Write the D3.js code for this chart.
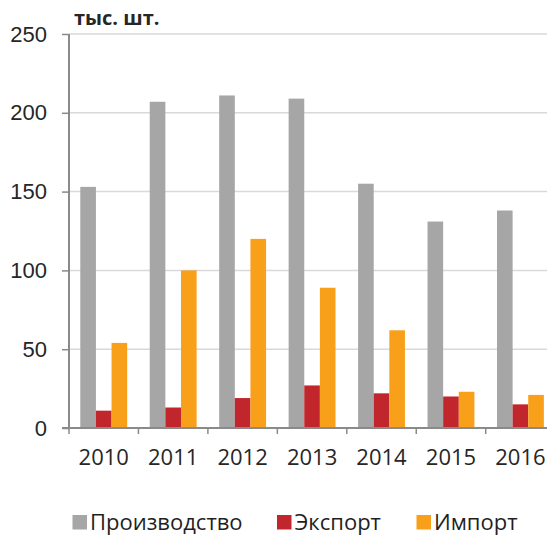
<!DOCTYPE html>
<html>
<head>
<meta charset="utf-8">
<script src="https://cdn.jsdelivr.net/npm/d3@7"></script>
<style>
  html, body { margin: 0; padding: 0; background: #fff; }
  svg { display: block; font-family: "Open Sans", "Noto Sans", sans-serif; }
</style>
</head>
<body>
<svg id="chart" width="547" height="536"></svg>
<script>
const years = ["2010", "2011", "2012", "2013", "2014", "2015", "2016"];
const seriesNames = ["Производство", "Экспорт", "Импорт"];
const production = [153, 207, 211, 209, 155, 131, 138];
const exportVals = [11, 13, 19, 27, 22, 20, 15];
const importVals = [54, 100, 120, 89, 62, 23, 21];
const yTicks = [0, 50, 100, 150, 200, 250];
const unitLabel = "тыс. шт.";
const colors = ["#a6a6a6", "#c0262c", "#f9a01b"];

const series = [production, exportVals, importVals];

const svg = d3.select("#chart");
const W = 547;
const axisX = 69;
const step = 69.45;

const x = d3.scaleBand()
  .domain(years)
  .range([axisX, axisX + step * years.length])
  .paddingInner(0.325)
  .paddingOuter(0.1625);

const xs = d3.scaleBand()
  .domain(seriesNames)
  .range([0, x.bandwidth()]);

const y = d3.scaleLinear().domain([0, 250]).range([428, 34]);

// gridlines
svg.append("g").selectAll("line")
  .data(yTicks.filter(d => d > 0))
  .join("line")
  .attr("x1", axisX).attr("x2", W)
  .attr("y1", d => y(d)).attr("y2", d => y(d))
  .attr("stroke", "#d9d9d9").attr("stroke-width", 1.5);

// bars
const groups = svg.append("g").selectAll("g")
  .data(years)
  .join("g")
  .attr("transform", d => `translate(${x(d)},0)`);

groups.selectAll("rect")
  .data((yr, i) => seriesNames.map((s, j) => ({ s, j, v: series[j][i] })))
  .join("rect")
  .attr("x", d => xs(d.s))
  .attr("width", xs.bandwidth())
  .attr("y", d => y(d.v))
  .attr("height", d => y(0) - y(d.v))
  .attr("fill", d => colors[d.j]);

// y axis
const yAxis = d3.axisLeft(y).tickValues(yTicks).tickSize(7).tickPadding(15);
const gy = svg.append("g").attr("transform", `translate(${axisX},0)`).call(yAxis);
gy.select(".domain").attr("stroke", "#8a8a8a").attr("stroke-width", 2)
  .attr("d", `M0,${y(250)}V${y(0)}`);
gy.selectAll(".tick line").attr("stroke", "#8a8a8a").attr("stroke-width", 1.5);
gy.selectAll(".tick text").attr("fill", "#262626").style("font-size", "22px")
  .attr("font-family", null);

// x axis
const gx = svg.append("g");
gx.append("line")
  .attr("x1", axisX - 7).attr("x2", W)
  .attr("y1", y(0)).attr("y2", y(0))
  .attr("stroke", "#8a8a8a").attr("stroke-width", 2);
gx.selectAll("line.tk")
  .data(years)
  .join("line")
  .attr("class", "tk")
  .attr("x1", d => x(d) - x.step() * x.paddingOuter())
  .attr("x2", d => x(d) - x.step() * x.paddingOuter())
  .attr("y1", y(0)).attr("y2", y(0) + 6)
  .attr("stroke", "#8a8a8a").attr("stroke-width", 1.5);
gx.selectAll("text")
  .data(years)
  .join("text")
  .attr("x", d => x(d) + x.bandwidth() / 2)
  .attr("y", 465)
  .attr("text-anchor", "middle")
  .attr("fill", "#262626")
  .style("font-size", "22px")
  .text(d => d);

// unit label
svg.append("text")
  .attr("x", 74).attr("y", 25)
  .attr("fill", "#262626")
  .style("font-size", "20px")
  .style("font-weight", "bold")
  .text(unitLabel);

// legend
const legendX = [72.5, 277, 416.5];
const lg = svg.append("g").selectAll("g")
  .data(seriesNames)
  .join("g")
  .attr("transform", (d, i) => `translate(${legendX[i]},515)`);
lg.append("rect")
  .attr("width", 14.5).attr("height", 14.5)
  .attr("fill", (d, i) => colors[i]);
lg.append("text")
  .attr("x", 17.5).attr("y", 15)
  .attr("fill", "#1f1f1f")
  .style("font-size", "22px")
  .text(d => d);
</script>
</body>
</html>
